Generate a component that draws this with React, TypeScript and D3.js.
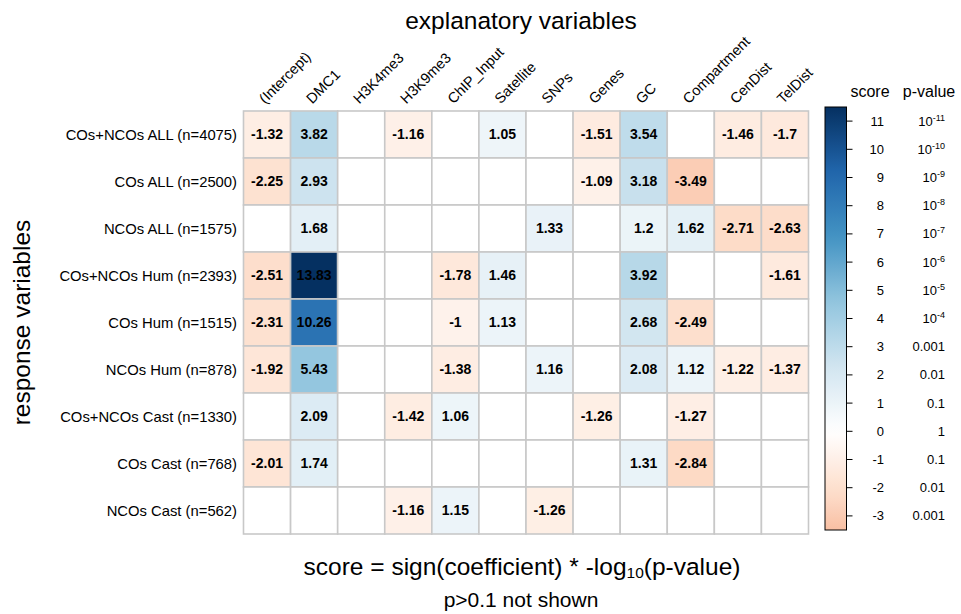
import React from "react";
import * as d3 from "d3";

// Explanatory variables (columns) and response variables (rows)
const explanatory = [
  "(Intercept)", "DMC1", "H3K4me3", "H3K9me3", "ChIP_Input", "Satellite",
  "SNPs", "Genes", "GC", "Compartment", "CenDist", "TelDist",
];

const responses = [
  "COs+NCOs ALL (n=4075)",
  "COs ALL (n=2500)",
  "NCOs ALL (n=1575)",
  "COs+NCOs Hum (n=2393)",
  "COs Hum (n=1515)",
  "NCOs Hum (n=878)",
  "COs+NCOs Cast (n=1330)",
  "COs Cast (n=768)",
  "NCOs Cast (n=562)",
];

// score = sign(coefficient) * -log10(p-value); null where p > 0.1
const allScores = [-1.32, 3.82, null, -1.16, null, 1.05, null, -1.51, 3.54, null, -1.46, -1.7];
const coScores = [-2.25, 2.93, null, null, null, null, null, -1.09, 3.18, -3.49, null, null];
const ncoScores = [null, 1.68, null, null, null, null, 1.33, null, 1.2, 1.62, -2.71, -2.63];
const humAllScores = [-2.51, 13.83, null, null, -1.78, 1.46, null, null, 3.92, null, null, -1.61];
const humCoScores = [-2.31, 10.26, null, null, -1, 1.13, null, null, 2.68, -2.49, null, null];
const humNcoScores = [-1.92, 5.43, null, null, -1.38, null, 1.16, null, 2.08, 1.12, -1.22, -1.37];
const castAllScores = [null, 2.09, null, -1.42, 1.06, null, null, -1.26, null, -1.27, null, null];
const castCoScores = [-2.01, 1.74, null, null, null, null, null, null, 1.31, -2.84, null, null];
const castNcoScores = [null, null, null, -1.16, 1.15, null, -1.26, null, null, null, null, null];

const scoreRows: (number | null)[][] = [
  allScores, coScores, ncoScores,
  humAllScores, humCoScores, humNcoScores,
  castAllScores, castCoScores, castNcoScores,
];

// Legend ticks
const legendScores = [11, 10, 9, 8, 7, 6, 5, 4, 3, 2, 1, 0, -1, -2, -3];
const legendPValues = [
  "10|-11", "10|-10", "10|-9", "10|-8", "10|-7", "10|-6", "10|-5", "10|-4",
  "0.001", "0.01", "0.1", "1", "0.1", "0.01", "0.001",
];

// Diverging red-white-blue palette
const palette = [
  "#67001F", "#B2182B", "#D6604D", "#F4A582", "#FDDBC7", "#FFFFFF",
  "#D1E5F0", "#92C5DE", "#4393C3", "#2166AC", "#053061",
];

const FONT = "'Liberation Sans', Arial, Helvetica, sans-serif";

function rampScale(limit: number) {
  const dom = palette.map((_, i) => -limit + (2 * limit * i) / (palette.length - 1));
  return d3.scaleLinear<string>().domain(dom).range(palette).interpolate(d3.interpolateRgb).clamp(true);
}

export default function App() {
  const width = 961;
  const height = 614;

  const gridLeft = 243.5;
  const gridRight = 808.5;
  const gridTop = 111;
  const gridBottom = 534;

  const x = d3.scaleBand<string>().domain(explanatory).range([gridLeft, gridRight]);
  const y = d3.scaleBand<string>().domain(responses).range([gridTop, gridBottom]);

  const maxAbs = d3.max(scoreRows.flat(), (v) => (v == null ? 0 : Math.abs(v))) ?? 1;
  const cellColor = rampScale(maxAbs);

  // Legend
  const barX = 825;
  const barW = 21.5;
  const legendY = d3.scaleLinear().domain([-3.5, 11.5]).range([530, 107]);
  const legendColor = rampScale(11.5);
  const gradStops = d3.range(0, 41).map((i) => {
    const v = -3.5 + (15 * i) / 40;
    return { offset: `${(i / 40) * 100}%`, color: legendColor(v) };
  });

  return (
    <svg
      width={width}
      height={height}
      style={{ position: "absolute", left: 0, top: 0, background: "#fff" }}
      fontFamily={FONT}
    >
      <defs>
        <linearGradient id="scoreGrad" x1="0" y1="1" x2="0" y2="0">
          {gradStops.map((s, i) => (
            <stop key={i} offset={s.offset} stopColor={s.color} />
          ))}
        </linearGradient>
      </defs>
      <rect width={width} height={height} fill="#fff" />

      {/* titles */}
      <text x={521} y={29} fontSize={24.5} textAnchor="middle" fill="#000">
        explanatory variables
      </text>
      <text
        transform={`translate(30,${(gridTop + gridBottom) / 2}) rotate(-90)`}
        fontSize={24.5}
        textAnchor="middle"
        fill="#000"
      >
        response variables
      </text>
      <text x={522} y={575} fontSize={24.5} textAnchor="middle" fill="#000">
        score = sign(coefficient) * -log
        <tspan fontSize={15.5} dy={3}>10</tspan>
        <tspan dy={-3}>(p-value)</tspan>
      </text>
      <text x={521} y={607} fontSize={21} textAnchor="middle" fill="#000">
        p&gt;0.1 not shown
      </text>

      {/* column labels */}
      {explanatory.map((c) => {
        const cx = (x(c) ?? 0) + x.bandwidth() / 2 - 2;
        return (
          <text
            key={c}
            transform={`translate(${cx},104.5) rotate(-45)`}
            fontSize={14.5}
            fill="#000"
          >
            {c}
          </text>
        );
      })}

      {/* row labels */}
      {responses.map((r) => (
        <text
          key={r}
          x={237}
          y={(y(r) ?? 0) + y.bandwidth() / 2}
          dy="0.35em"
          fontSize={14.8}
          textAnchor="end"
          fill="#000"
        >
          {r}
        </text>
      ))}

      {/* cells */}
      {scoreRows.map((row, ri) =>
        row.map((v, ci) => {
          const cx = x(explanatory[ci]) ?? 0;
          const cy = y(responses[ri]) ?? 0;
          return (
            <g key={`${ri}-${ci}`}>
              <rect
                x={cx}
                y={cy}
                width={x.bandwidth()}
                height={y.bandwidth()}
                fill={v == null ? "#fff" : cellColor(v)}
                stroke="#c8c8c8"
                strokeWidth={1.6}
              />
              {v != null && (
                <text
                  x={cx + x.bandwidth() / 2}
                  y={cy + y.bandwidth() / 2}
                  dy="0.35em"
                  textAnchor="middle"
                  fontSize={14}
                  fontWeight="bold"
                  fill="#000"
                >
                  {String(v)}
                </text>
              )}
            </g>
          );
        })
      )}

      {/* legend */}
      <text x={870} y={97} fontSize={16} textAnchor="middle" fill="#000">score</text>
      <text x={929} y={97} fontSize={16} textAnchor="middle" fill="#000">p-value</text>
      <rect
        x={barX}
        y={legendY(11.5)}
        width={barW}
        height={legendY(-3.5) - legendY(11.5)}
        fill="url(#scoreGrad)"
        stroke="#000"
        strokeWidth={1}
      />
      {legendScores.map((s, i) => {
        const ty = legendY(s);
        const pv = legendPValues[i];
        const [base, exp] = pv.split("|");
        return (
          <g key={s}>
            <line x1={barX + barW} x2={barX + barW + 6} y1={ty} y2={ty} stroke="#000" strokeWidth={1} />
            <text x={884} y={ty} dy="0.35em" fontSize={13} textAnchor="end" fill="#000">
              {s}
            </text>
            <text x={945} y={ty} dy="0.35em" fontSize={13} textAnchor="end" fill="#000">
              {exp ? (
                <>
                  {base}
                  <tspan fontSize={9} dy={-5}>{exp}</tspan>
                </>
              ) : (
                base
              )}
            </text>
          </g>
        );
      })}
    </svg>
  );
}
